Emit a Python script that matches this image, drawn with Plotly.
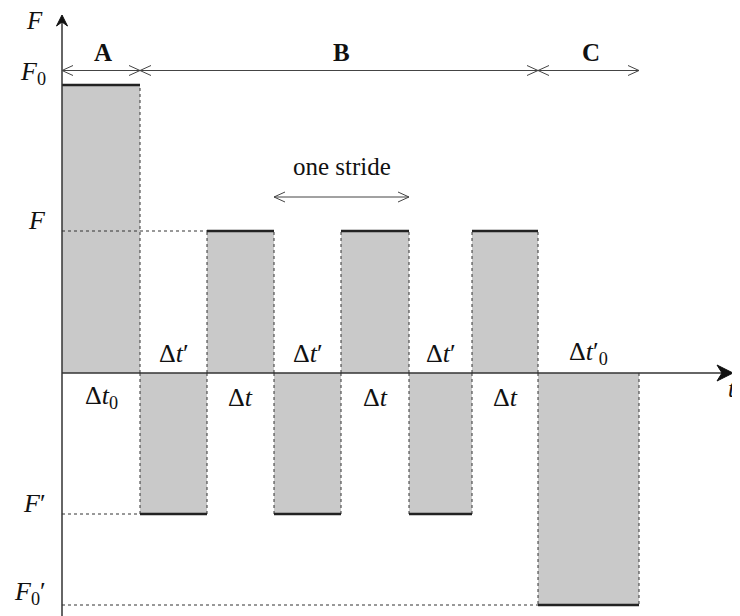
import numpy as np
import plotly.graph_objects as go

# ---------------- data ----------------
durations = [78, 67, 67, 67, 68, 63, 66, 101]          # time per phase segment
forces = [288, -141, 142, -141, 142, -141, 142, -232]   # force level of each segment
bar_labels = ["Δ<i>t</i><sub>0</sub>", "Δ<i>t</i>′", "Δ<i>t</i>", "Δ<i>t</i>′",
              "Δ<i>t</i>", "Δ<i>t</i>′", "Δ<i>t</i>", "Δ<i>t</i>′<sub>0</sub>"]
level_values = [288, 142, -141, -232]
level_labels = ["<i>F</i><sub>0</sub>", "<i>F</i>", "<i>F</i>′", "<i>F</i><sub>0</sub>′"]
phase_names = ["A", "B", "C"]
phase_bars = [(0, 1), (1, 7), (7, 8)]
stride_bars = (3, 5)

# ---------------- styling / frame ----------------
FONT = "Liberation Serif, Times New Roman, Times, serif"
FS = 25
GRAY = "#c9c9c9"
INK = "#333333"
X_MIN, X_MAX = -54, 686
Y_MIN, Y_MAX = -251, 365
Y_AXIS_TOP = 358
X_AXIS_END = 671
DIM_Y = 302.5
STRIDE_Y = 176

bounds = np.concatenate([[0], np.cumsum(durations)])
centers = (bounds[:-1] + bounds[1:]) / 2

fig = go.Figure()

# bars
fig.add_trace(go.Bar(x=centers, y=forces, width=durations, base=0,
                     marker=dict(color=GRAY, line=dict(width=0)),
                     hoverinfo="skip", showlegend=False))

# dotted vertical edges
vx, vy = [], []
for i, f in enumerate(forces):
    for e in (bounds[i], bounds[i + 1]):
        if e == 0:
            continue
        vx += [e, e, None]
        vy += [0, f, None]
# dotted horizontal reference lines
for lv in level_values:
    first = next(i for i, f in enumerate(forces) if f == lv)
    if bounds[first] > 0:
        vx += [0, bounds[first], None]
        vy += [lv, lv, None]
fig.add_trace(go.Scatter(x=vx, y=vy, mode="lines",
                         line=dict(color=INK, width=1, dash="dot"),
                         hoverinfo="skip", showlegend=False))

# heavy level lines
hx, hy = [], []
for i, f in enumerate(forces):
    hx += [bounds[i], bounds[i + 1], None]
    hy += [f, f, None]
fig.add_trace(go.Scatter(x=hx, y=hy, mode="lines",
                         line=dict(color="#222222", width=2.6),
                         hoverinfo="skip", showlegend=False))

# axes
fig.add_trace(go.Scatter(x=[0, 0, None, 0, X_AXIS_END - 8],
                         y=[Y_MIN, Y_AXIS_TOP - 4, None, 0, 0], mode="lines",
                         line=dict(color=INK, width=1.5),
                         hoverinfo="skip", showlegend=False))
# axis arrowheads (filled stealth)
fig.add_trace(go.Scatter(x=[0, -5.5, 0, 5.5, 0],
                         y=[Y_AXIS_TOP, Y_AXIS_TOP - 11, Y_AXIS_TOP - 7, Y_AXIS_TOP - 11, Y_AXIS_TOP],
                         mode="lines", fill="toself", fillcolor="#111111",
                         line=dict(color="#111111", width=1),
                         hoverinfo="skip", showlegend=False))
fig.add_trace(go.Scatter(x=[X_AXIS_END, X_AXIS_END - 16, X_AXIS_END - 11, X_AXIS_END - 16, X_AXIS_END],
                         y=[0, 8, 0, -8, 0],
                         mode="lines", fill="toself", fillcolor="#111111",
                         line=dict(color="#111111", width=1),
                         hoverinfo="skip", showlegend=False))


def chevron(x0, y0, d, L=11, W=5):
    return [x0 - d * L, x0, x0 - d * L, None], [y0 + W, y0, y0 - W, None]


# dimension arrows (phases)
ax_, ay_ = [], []
for (s, e) in phase_bars:
    x0, x1 = bounds[s], bounds[e]
    ax_ += [x0, x1, None]
    ay_ += [DIM_Y, DIM_Y, None]
    cx, cy = chevron(x0, DIM_Y, -1); ax_ += cx; ay_ += cy
    cx, cy = chevron(x1, DIM_Y, 1); ax_ += cx; ay_ += cy
# stride arrow
s0, s1 = bounds[stride_bars[0]], bounds[stride_bars[1]]
ax_ += [s0, s1, None]
ay_ += [STRIDE_Y, STRIDE_Y, None]
cx, cy = chevron(s0, STRIDE_Y, -1); ax_ += cx; ay_ += cy
cx, cy = chevron(s1, STRIDE_Y, 1); ax_ += cx; ay_ += cy
fig.add_trace(go.Scatter(x=ax_, y=ay_, mode="lines",
                         line=dict(color="#444444", width=1),
                         hoverinfo="skip", showlegend=False))

# t-axis name as a text trace (not clipped)
fig.add_trace(go.Scatter(x=[X_AXIS_END - 5], y=[-18], mode="text", text=["<i>t</i>"],
                         textposition="middle right", cliponaxis=False,
                         textfont=dict(family=FONT, size=FS, color="#111111"),
                         hoverinfo="skip", showlegend=False))

ann = []
font = dict(family=FONT, size=FS, color="#111111")
mfont = dict(family=FONT, size=26, color="#111111")
# phase labels
for name, (s, e) in zip(phase_names, phase_bars):
    ann.append(dict(x=(bounds[s] + bounds[e]) / 2 + 2, y=DIM_Y + 3, text=f"<b>{name}</b>",
                    yanchor="bottom", showarrow=False, font=font))
ann.append(dict(x=(s0 + s1) / 2, y=STRIDE_Y + 15, text="one stride",
                yanchor="bottom", showarrow=False, font=font))
# bar labels
for c, f, lab in zip(centers, forces, bar_labels):
    if f > 0:
        ann.append(dict(x=c, y=-24, text=lab, showarrow=False, font=mfont))
    else:
        ann.append(dict(x=c, y=20, text=lab, showarrow=False, font=mfont))
# level labels
for lv, lab in zip(level_values, level_labels):
    ann.append(dict(x=-14, y=lv, text=lab, xanchor="right", yanchor="bottom",
                    yshift=-6, showarrow=False, font=mfont))
# axis names
ann.append(dict(x=-28, y=Y_AXIS_TOP - 5, text="<i>F</i>", showarrow=False, font=font))

fig.update_layout(
    width=740, height=616,
    margin=dict(l=0, r=0, t=0, b=0),
    paper_bgcolor="white", plot_bgcolor="white",
    xaxis=dict(range=[X_MIN, X_MAX], visible=False, fixedrange=True),
    yaxis=dict(range=[Y_MIN, Y_MAX], visible=False, fixedrange=True),
    annotations=ann, showlegend=False, hovermode=False,
)

fig.write_html("out.html", config={"displayModeBar": False})
